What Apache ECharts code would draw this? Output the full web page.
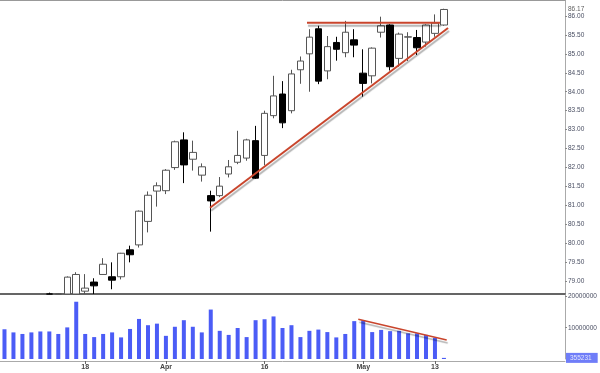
<!DOCTYPE html>
<html>
<head>
<meta charset="utf-8">
<script src="https://cdn.jsdelivr.net/npm/echarts@6/dist/echarts.min.js"></script>
<style>html,body{margin:0;padding:0;background:#fff}#c{width:600px;height:373px}</style>
</head>
<body>
<div id="c"></div>
<script>
// ---- data ----
const dates = ['2013-03-05','2013-03-06','2013-03-07','2013-03-08','2013-03-11','2013-03-12','2013-03-13','2013-03-14','2013-03-15',
'2013-03-18','2013-03-19','2013-03-20','2013-03-21','2013-03-22','2013-03-25','2013-03-26','2013-03-27','2013-03-28',
'2013-04-01','2013-04-02','2013-04-03','2013-04-04','2013-04-05','2013-04-08','2013-04-09','2013-04-10','2013-04-11','2013-04-12',
'2013-04-15','2013-04-16','2013-04-17','2013-04-18','2013-04-19','2013-04-22','2013-04-23','2013-04-24','2013-04-25','2013-04-26',
'2013-04-29','2013-04-30','2013-05-01','2013-05-02','2013-05-03','2013-05-06','2013-05-07','2013-05-08','2013-05-09','2013-05-10',
'2013-05-13','2013-05-14'];
const opens  = [77.60,77.85,77.75,78.05,77.95,78.20,78.35,78.40,78.55,78.74,78.98,79.18,79.12,79.12,79.83,79.96,80.58,81.38,81.39,82.00,
                82.73,82.22,81.80,81.26,81.26,81.83,82.14,82.25,82.71,82.32,83.37,83.94,83.50,84.58,85.00,85.66,84.55,85.30,85.03,85.37,
                84.49,84.42,85.57,85.76,84.88,85.44,85.43,85.31,85.54,85.76];
const closes = [77.85,77.70,78.05,77.95,78.20,78.35,78.30,79.11,79.18,78.82,78.88,79.45,79.03,79.74,79.70,80.85,81.27,81.52,81.93,82.68,
                82.07,82.40,82.02,81.12,81.51,82.02,82.32,82.73,81.72,83.43,83.89,83.18,84.47,84.81,85.44,84.28,85.19,85.12,85.57,85.23,
                84.22,85.15,85.74,84.66,85.52,85.45,85.16,85.76,85.81,86.17];
const lows   = [77.45,77.55,77.65,77.80,77.85,78.05,78.15,78.30,78.45,78.60,78.60,79.18,78.79,79.05,79.50,79.89,80.29,80.97,81.30,81.94,
                81.59,81.92,81.63,80.31,81.22,81.74,82.09,82.18,81.70,82.06,83.30,83.04,83.43,84.21,84.00,84.20,84.33,84.82,84.91,84.91,
                83.87,84.22,85.43,84.56,84.66,84.81,84.97,85.19,85.45,85.74];
const highs  = [77.95,78.00,78.15,78.20,78.35,78.70,78.68,79.13,79.24,79.19,79.08,79.61,79.50,79.75,79.94,80.87,81.37,81.61,81.96,82.71,
                82.93,82.71,82.11,81.39,81.75,82.20,82.97,82.76,83.10,83.50,84.42,84.28,84.58,84.93,85.65,85.74,85.47,85.45,85.87,85.65,
                85.12,85.17,85.98,85.78,85.56,85.57,85.63,85.78,86.04,86.19];
const volumes = [9500000,8500000,8000000,8500000,8800000,8800000,8000000,10100000,18300000,8000000,7000000,8000000,8500000,6900000,
                 9600000,12800000,10800000,11300000,7400000,10300000,12400000,10300000,8500000,15800000,9000000,7700000,9900000,7000000,
                 12400000,12700000,13600000,9900000,10800000,7000000,9000000,9400000,8600000,6900000,8000000,12100000,12400000,8600000,
                 9300000,8900000,9000000,8200000,8200000,7700000,6800000,355231];
const tickIndex = [9, 18, 29, 40, 48];
const tickText  = ['18', 'Apr', '16', 'May', '13'];
// trend lines: [category index, value]
const supportLine    = [[22.92, 80.94], [49.46, 85.68]];
const resistanceLine = [[33.73, 85.82], [48.56, 85.82]];
const volumeTrend    = [[39.45, 12700000], [49.31, 6100000]];

// ---- chart ----
const PRICE_MIN = 78.665, PRICE_MAX = 86.42;
const padCount = 13;
const xCats = dates.concat(Array.from({length: padCount}, (_, i) => 'pad' + i));
const nSlots = xCats.length;
const clampP = (v) => Math.max(v, PRICE_MIN);
const candleData = dates.map((d, i) => highs[i] < PRICE_MIN ? '-' :
  [clampP(opens[i]), clampP(closes[i]), clampP(lows[i]), highs[i]]);
const tickSet = {};
tickIndex.forEach((ix, k) => { tickSet[ix] = tickText[k]; });
const lastClose = closes[closes.length - 1];
const lastVol = volumes[volumes.length - 1];

const FONT = '"Liberation Sans", Arial, sans-serif';
const RED = '#c9452c';
const BLUE = '#4b5cf6';
const lineShadow = {shadowColor: 'rgba(0,0,0,0.3)', shadowBlur: 1, shadowOffsetX: 1, shadowOffsetY: 3};

const chart = echarts.init(document.getElementById('c'), null, {renderer: 'canvas'});
chart.setOption({
  animation: false,
  backgroundColor: '#fff',
  grid: [
    {left: 0, right: 35, top: 0, height: 294},
    {left: 0, right: 35, top: 295, height: 64}
  ],
  xAxis: [
    {type: 'category', gridIndex: 0, data: xCats, boundaryGap: true,
     axisLine: {show: true, onZero: false, lineStyle: {color: '#333', width: 1.5}}, axisTick: {show: false}, axisLabel: {show: false}, splitLine: {show: false}},
    {type: 'category', gridIndex: 1, data: xCats, boundaryGap: true, offset: 2,
     axisLine: {show: true, onZero: false, lineStyle: {color: '#aaa'}},
     axisTick: {show: true, alignWithLabel: true, length: 3, lineStyle: {color: '#666'}, interval: (i) => tickSet[i] !== undefined},
     axisLabel: {show: true, interval: (i) => tickSet[i] !== undefined, formatter: (v, i) => tickSet[i] || '',
                 fontSize: 7, color: '#444', fontFamily: FONT, fontWeight: 'bold', margin: 3},
     splitLine: {show: false}},
    {type: 'value', gridIndex: 0, min: -0.5, max: nSlots - 0.5, show: false, axisLine: {onZero: false}},
    {type: 'value', gridIndex: 1, min: -0.5, max: nSlots - 0.5, show: false, axisLine: {onZero: false}},
    {type: 'category', gridIndex: 0, position: 'top', data: xCats,
     axisLine: {show: true, onZero: false, lineStyle: {color: '#999'}}, axisTick: {show: false}, axisLabel: {show: false}, splitLine: {show: false}}
  ],
  yAxis: [
    {type: 'value', gridIndex: 0, position: 'right', min: PRICE_MIN, max: PRICE_MAX, splitNumber: 15,
     splitLine: {show: false},
     axisLine: {show: true, onZero: false, lineStyle: {color: '#aaa'}},
     axisTick: {show: true, length: 2, lineStyle: {color: '#888'}},
     axisLabel: {show: true, showMinLabel: false, showMaxLabel: false, fontSize: 6.5, color: '#4a4f63', fontFamily: FONT, margin: 3,
                 formatter: (v) => Math.abs(v * 2 - Math.round(v * 2)) < 1e-6 ? v.toFixed(2) : ''}},
    {type: 'value', gridIndex: 1, position: 'right', min: 0, max: 20450000, interval: 10000000,
     splitLine: {show: false},
     axisLine: {show: true, onZero: false, lineStyle: {color: '#aaa'}},
     axisTick: {show: true, length: 2, lineStyle: {color: '#888'}},
     axisLabel: {show: true, showMinLabel: false, showMaxLabel: false, fontSize: 6.5, color: '#4a4f63', fontFamily: FONT, margin: 3,
                 formatter: (v) => (v > 0 && v % 10000000 === 0) ? String(v) : ''}}
  ],
  series: [
    {type: 'candlestick', xAxisIndex: 0, yAxisIndex: 0, data: candleData, barWidth: 7,
     itemStyle: {color: '#fff', color0: '#000', borderColor: '#555', borderColor0: '#000', borderWidth: 1}},
    {type: 'bar', xAxisIndex: 1, yAxisIndex: 1, data: volumes, barWidth: 4,
     itemStyle: {color: BLUE}},
    {type: 'line', xAxisIndex: 2, yAxisIndex: 0, data: supportLine, symbol: 'none', silent: true,
     lineStyle: Object.assign({color: RED, width: 2}, lineShadow)},
    {type: 'line', xAxisIndex: 2, yAxisIndex: 0, data: resistanceLine, symbol: 'none', silent: true,
     lineStyle: Object.assign({color: RED, width: 2}, lineShadow)},
    {type: 'line', xAxisIndex: 3, yAxisIndex: 1, data: volumeTrend, symbol: 'none', silent: true,
     lineStyle: Object.assign({color: RED, width: 1.5}, lineShadow)},
    // last-value labels on the right axes
    {type: 'scatter', xAxisIndex: 2, yAxisIndex: 0, data: [[nSlots - 0.5, lastClose]], symbolSize: 0, silent: true, clip: false,
     label: {show: true, position: 'right', distance: 3, formatter: (p) => p.value[1].toFixed(2),
             fontSize: 6.5, color: '#333', fontFamily: FONT}},
    {type: 'scatter', xAxisIndex: 3, yAxisIndex: 1, data: [[nSlots - 0.5, lastVol]], symbolSize: 0, silent: true, clip: false,
     label: {show: true, position: 'right', distance: 1, formatter: (p) => String(p.value[1]),
             fontSize: 6.5, color: '#fff', fontFamily: FONT, backgroundColor: BLUE, padding: [2, 6, 1, 4]}}
  ]
});
</script>
</body>
</html>
